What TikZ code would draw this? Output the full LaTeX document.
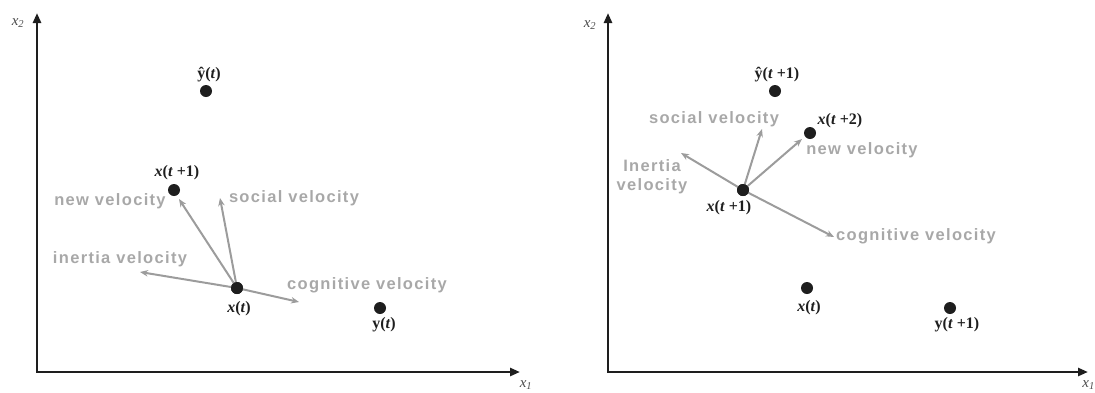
\documentclass[tikz,border=0pt]{standalone}
\usepackage{fontspec}
\setmainfont{Liberation Serif}
\newfontfamily\lblfont[LetterSpace=8]{Liberation Sans}
\usetikzlibrary{arrows.meta}
\definecolor{vgray}{HTML}{A8A8A8}
\definecolor{agray}{HTML}{9C9C9C}
\definecolor{dotc}{HTML}{1E1E1E}
\newcommand\vi[1]{\textit{#1}}
\begin{document}
\begin{tikzpicture}[x=1pt,y=-1pt,
  pdot/.style={circle, fill=dotc, inner sep=0pt, minimum size=12pt},
  vel/.style={draw=agray, line width=2pt, -{Stealth[length=8pt,width=6.5pt]}},
  vlab/.style={text=vgray, font=\lblfont\bfseries\fontsize{16.5}{19}\selectfont, inner sep=0pt, align=center},
  mlab/.style={font=\bfseries\fontsize{16}{18}\selectfont, inner sep=0pt, text=dotc},
  axlab/.style={font=\itshape\fontsize{15}{17}\selectfont, inner sep=0pt, text=dotc!80},
  axisline/.style={draw=dotc, line width=2.5pt, {Triangle[length=10pt,width=8pt]}-{Triangle[length=10pt,width=8pt]}}]
\useasboundingbox (0,0) rectangle (1095,392);
% ---------- left panel ----------
\coordinate (o1) at (37,372);
\coordinate (t1) at (37,13);
\coordinate (r1) at (520,372);
\draw[axisline] (t1) -- (o1) -- (r1);
\node[axlab] (x2a) at (18,23) {x\textsubscript{2}};
\node[axlab] (x1a) at (526,385) {x\textsubscript{1}};
\coordinate (nv1) at (179,199);
\coordinate (sv1) at (220,198);
\coordinate (iv1) at (140,272);
\coordinate (cv1) at (299,302);
\node[pdot] (xt1) at (237,288) {};
\draw[vel] (xt1.center) -- (nv1);
\draw[vel] (xt1.center) -- (sv1);
\draw[vel] (xt1.center) -- (iv1);
\draw[vel] (xt1.center) -- (cv1);
\node[pdot] (yh1) at (206,91) {};
\node[pdot] (xn1) at (174,190) {};
\node[pdot] (xt1b) at (237,288) {};
\node[pdot] (yb1) at (380,308) {};
\node[mlab] (lyh1) at (209,75) {ŷ(\vi{t})};
\node[mlab] (lxn1) at (177,173) {\vi{x}(\vi{t} +1)};
\node[mlab] (lxt1) at (239,309) {\vi{x}(\vi{t})};
\node[mlab] (lyb1) at (384,325) {y(\vi{t})};
\node[vlab] (lnv1) at (110,201) {new velocity};
\node[vlab] (lsv1) at (294,198) {social velocity};
\node[vlab] (liv1) at (120,259) {inertia velocity};
\node[vlab] (lcv1) at (367,285) {cognitive velocity};
% ---------- right panel ----------
\coordinate (o2) at (608,372);
\coordinate (t2) at (608,13);
\coordinate (r2) at (1088,372);
\draw[axisline] (t2) -- (o2) -- (r2);
\node[axlab] (x2b) at (590,25) {x\textsubscript{2}};
\node[axlab, anchor=east] (x1b) at (1095,385) {x\textsubscript{1}};
\coordinate (sv2) at (762,129);
\coordinate (nv2) at (802,139);
\coordinate (iv2) at (681,153);
\coordinate (cv2) at (834,237);
\node[pdot] (xn2) at (743,190) {};
\draw[vel] (xn2.center) -- (sv2);
\draw[vel] (xn2.center) -- (nv2);
\draw[vel] (xn2.center) -- (iv2);
\draw[vel] (xn2.center) -- (cv2);
\node[pdot] (xn2b) at (743,190) {};
\node[pdot] (yh2) at (775,91) {};
\node[pdot] (xm2) at (810,133) {};
\node[pdot] (xt2) at (807,288) {};
\node[pdot] (yb2) at (950,308) {};
\node[mlab] (lyh2) at (777,75) {ŷ(\vi{t} +1)};
\node[mlab] (lxm2) at (840,121) {\vi{x}(\vi{t} +2)};
\node[mlab] (lxn2) at (729,208) {\vi{x}(\vi{t} +1)};
\node[mlab] (lxt2) at (809,308) {\vi{x}(\vi{t})};
\node[mlab] (lyb2) at (957,325) {y(\vi{t} +1)};
\node[vlab] (lsv2) at (714,119) {social velocity};
\node[vlab] (lnv2) at (862,150) {new velocity};
\node[vlab] (liv2) at (652,177) {Inertia\\velocity};
\node[vlab] (lcv2) at (916,236) {cognitive velocity};
\end{tikzpicture}
\end{document}
